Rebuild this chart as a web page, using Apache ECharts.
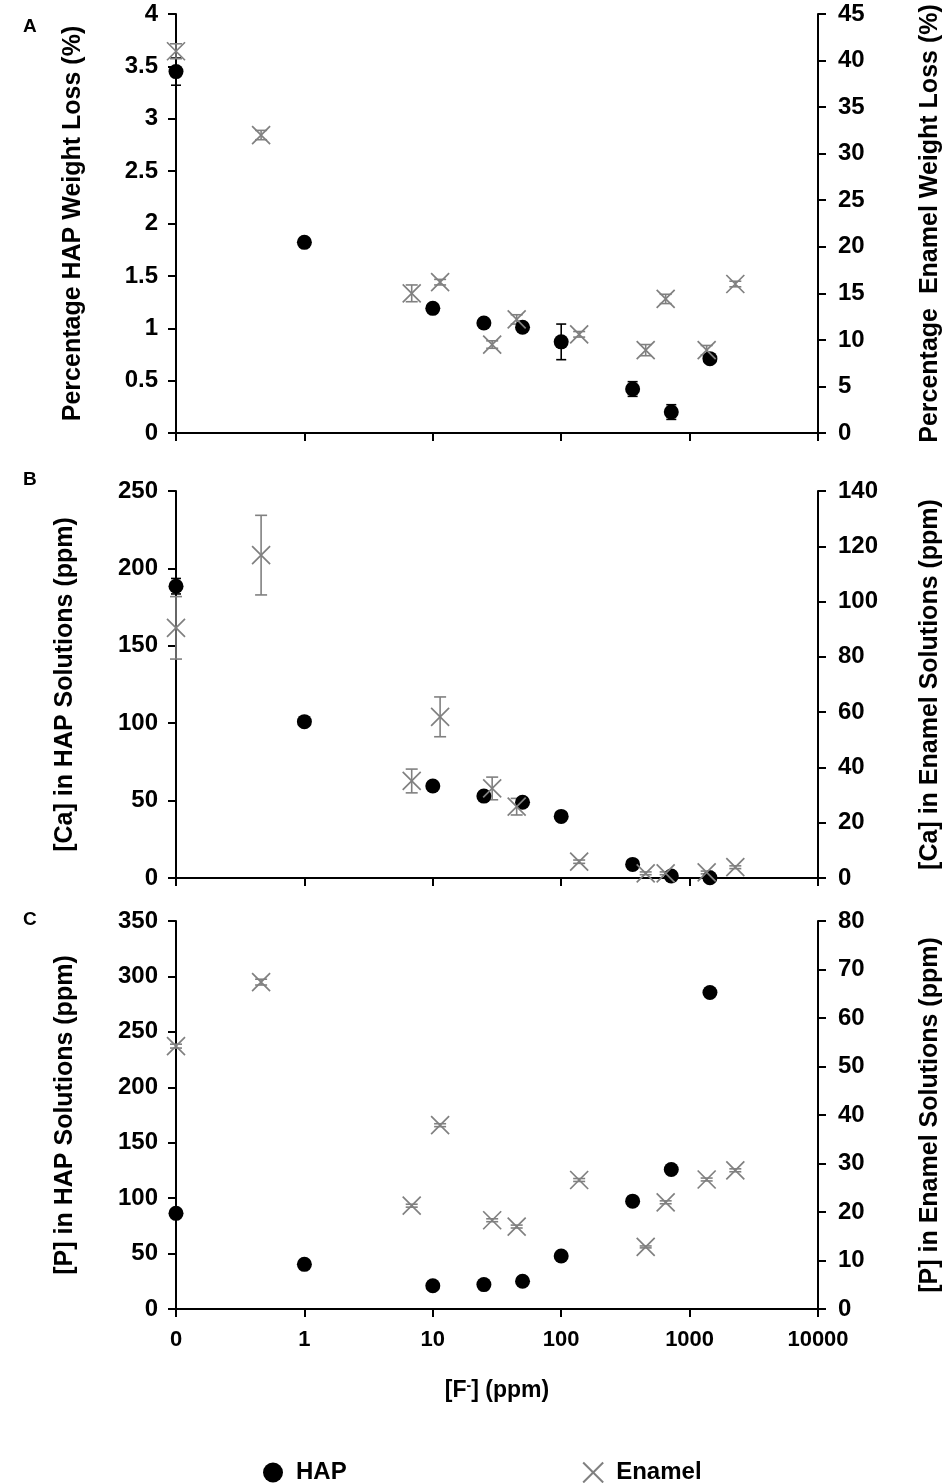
<!DOCTYPE html>
<html>
<head>
<meta charset="utf-8">
<script src="https://cdn.jsdelivr.net/npm/echarts@6/dist/echarts.min.js"></script>
<style>
html,body{margin:0;padding:0;background:#fff;}
#chart{width:945px;height:1483px;}
</style>
</head>
<body>
<div id="chart"></div>
<script>
// ---- Data ----
const fHAP = [0.1, 1, 10, 25, 50, 100, 360, 720, 1440];          // [F-] ppm (0 plotted at 0.1)
const fEnamel = [0.1, 0.46, 6.85, 11.4, 29, 45, 138, 455, 651, 1358, 2270];

const xTickLabels = ['0', '1', '10', '100', '1000', '10000'];

// Panel A: weight loss (%)
const aHAP = [3.45, 1.82, 1.19, 1.05, 1.01, 0.87, 0.42, 0.20, 0.71];
const aHAPErr = [0.13, 0.02, 0.02, 0.02, 0.02, 0.17, 0.07, 0.07, 0.04];
const aEnamel = [41.0, 32.0, 15.0, 16.2, 9.5, 12.2, 10.6, 8.9, 14.4, 8.9, 16.0];
const aEnamelErr = [0.8, 0.5, 0.9, 0.3, 0.4, 0.5, 0.3, 0.6, 0.5, 0.5, 0.3];

// Panel B: [Ca] (ppm)
const bHAP = [188.5, 101, 59.4, 52.9, 48.9, 39.8, 8.8, 1.3, 0.2];
const bHAPErr = [5, 2, 1, 1, 1, 1, 0.5, 0.3, 0.2];
const bEnamel = [90.5, 116.8, 35.1, 58.3, 32.4, 25.8, 5.9, 1.7, 1.7, 2.0, 3.9];
const bEnamelErr = [11.3, 14.4, 4.3, 7.2, 4.1, 3.0, 0.6, 0.5, 0.5, 0.5, 0.5];

// Panel C: [P] (ppm)
const cHAP = [86.3, 40.3, 21, 22, 25, 47.8, 97.3, 125.9, 285.5];
const cHAPErr = [0, 0, 0, 0, 0, 0, 0, 0, 0];
const cEnamel = [54.2, 67.4, 21.3, 37.9, 18.3, 17.0, 26.6, 12.8, 22.0, 26.7, 28.6];
const cEnamelErr = [0.4, 0.6, 0.3, 0.3, 0.3, 0.3, 0.3, 0.2, 0.3, 0.3, 0.3];

const leftNames = ['Percentage HAP Weight Loss (%)', '[Ca] in HAP Solutions (ppm)', '[P] in HAP Solutions (ppm)'];
const rightNames = ['Percentage  Enamel Weight Loss (%)', '[Ca] in Enamel Solutions (ppm)', '[P] in Enamel Solutions (ppm)'];
const leftRanges = [[0, 4, 0.5], [0, 250, 50], [0, 350, 50]];
const rightRanges = [[0, 45, 5], [0, 140, 20], [0, 80, 10]];
const panelLetters = ['A', 'B', 'C'];

// ---- Styling / layout ----
const FONT = '"Liberation Sans", Arial, sans-serif';
const grey = '#808080';
const grids = [
  {left: 176, right: 127, top: 14, height: 419, outerBoundsMode: 'none', containLabel: false},
  {left: 176, right: 127, top: 491, height: 387, outerBoundsMode: 'none', containLabel: false},
  {left: 176, right: 127, top: 921, height: 388, outerBoundsMode: 'none', containLabel: false}
];
const letterY = [27, 480, 920];
const xPath = 'path://M0,0L10,10M10,0L0,10';

const chart = echarts.init(document.getElementById('chart'), null, {renderer: 'canvas'});

const xAxes = [], yAxes = [], series = [];
const axisLineStyle = {color: '#000', width: 2};

grids.forEach((g, i) => {
  const last = i === 2;
  xAxes.push({
    gridIndex: i, type: 'log', logBase: 10, min: 0.1, max: 10000,
    axisLine: {show: true, lineStyle: axisLineStyle, onZero: false},
    axisTick: {show: true, inside: false, length: 8, lineStyle: {color: '#000', width: 2}},
    minorTick: {show: false},
    splitLine: {show: false},
    axisLabel: {
      show: last, margin: 20, color: '#000', fontSize: 22, fontWeight: 'bold', fontFamily: FONT,
      formatter: v => { const k = Math.round(Math.log10(v)) + 1; return xTickLabels[k] !== undefined ? xTickLabels[k] : ''; }
    },
    name: last ? '[F{sup|-}] (ppm)' : '',
    nameLocation: 'middle', nameGap: 70,
    nameTextStyle: {color: '#000', fontSize: 23, fontWeight: 'bold', fontFamily: FONT,
      rich: {sup: {fontSize: 14, fontWeight: 'bold', fontFamily: FONT, color: '#000', verticalAlign: 'top', padding: [0, 0, 10, 0]}}}
  });
  const lr = leftRanges[i], rr = rightRanges[i];
  yAxes.push({
    gridIndex: i, type: 'value', position: 'left', min: lr[0], max: lr[1], interval: lr[2],
    axisLine: {show: true, lineStyle: axisLineStyle},
    axisTick: {show: true, inside: false, length: 8, lineStyle: {color: '#000', width: 2}},
    splitLine: {show: false},
    axisLabel: {margin: 18, color: '#000', fontSize: 24, fontWeight: 'bold', fontFamily: FONT},
    name: leftNames[i], nameLocation: 'middle', nameRotate: 90, nameGap: i === 0 ? 90 : 98,
    nameTextStyle: {color: '#000', fontSize: 25, fontWeight: 'bold', fontFamily: FONT}
  });
  yAxes.push({
    gridIndex: i, type: 'value', position: 'right', min: rr[0], max: rr[1], interval: rr[2],
    axisLine: {show: true, lineStyle: axisLineStyle},
    axisTick: {show: true, inside: false, length: 8, lineStyle: {color: '#000', width: 2}},
    splitLine: {show: false},
    axisLabel: {margin: 20, color: '#000', fontSize: 24, fontWeight: 'bold', fontFamily: FONT},
    name: rightNames[i], nameLocation: 'middle', nameRotate: 90, nameGap: 100,
    nameTextStyle: {color: '#000', fontSize: 25, fontWeight: 'bold', fontFamily: FONT}
  });
});

function errRender(color, cap) {
  return function (params, api) {
    const x = api.value(0), lo = api.value(1), hi = api.value(2);
    const p1 = api.coord([x, hi]), p2 = api.coord([x, lo]);
    const s = {stroke: color, lineWidth: 1.6};
    return {type: 'group', children: [
      {type: 'line', shape: {x1: p1[0], y1: p1[1], x2: p2[0], y2: p2[1]}, style: s},
      {type: 'line', shape: {x1: p1[0] - cap, y1: p1[1], x2: p1[0] + cap, y2: p1[1]}, style: s},
      {type: 'line', shape: {x1: p2[0] - cap, y1: p2[1], x2: p2[0] + cap, y2: p2[1]}, style: s}
    ]};
  };
}

const panels = [
  [aHAP, aHAPErr, aEnamel, aEnamelErr],
  [bHAP, bHAPErr, bEnamel, bEnamelErr],
  [cHAP, cHAPErr, cEnamel, cEnamelErr]
];

panels.forEach((p, i) => {
  const [h, he, e, ee] = p;
  series.push({
    type: 'custom', name: 'HAPerr', xAxisIndex: i, yAxisIndex: 2 * i,
    renderItem: errRender('#000', 5), silent: true, z: 1,
    encode: {x: 0, y: [1, 2]},
    data: fHAP.map((x, k) => [x, h[k] - he[k], h[k] + he[k]])
  });
  series.push({
    type: 'custom', name: 'Enamelerr', xAxisIndex: i, yAxisIndex: 2 * i + 1,
    renderItem: errRender(grey, 6), silent: true, z: 1,
    encode: {x: 0, y: [1, 2]},
    data: fEnamel.map((x, k) => [x, e[k] - ee[k], e[k] + ee[k]])
  });
  series.push({
    type: 'scatter', name: 'HAP', xAxisIndex: i, yAxisIndex: 2 * i,
    symbol: 'circle', symbolSize: 15, z: 3,
    itemStyle: {color: '#000', opacity: 1},
    data: fHAP.map((x, k) => [x, h[k]])
  });
  series.push({
    type: 'scatter', name: 'Enamel', xAxisIndex: i, yAxisIndex: 2 * i + 1,
    symbol: xPath, symbolSize: 18, z: 4,
    itemStyle: {color: 'none', borderColor: grey, borderWidth: 1.7, opacity: 1},
    data: fEnamel.map((x, k) => [x, e[k]])
  });
});

const option = {
  backgroundColor: '#fff',
  animation: false,
  grid: grids,
  xAxis: xAxes,
  yAxis: yAxes,
  series: series,
  legend: {
    data: [
      {name: 'HAP', icon: 'circle', itemStyle: {color: '#000'}},
      {name: 'Enamel', icon: xPath, itemStyle: {color: 'none', borderColor: grey, borderWidth: 2}}
    ],
    left: 258, top: 1455, itemWidth: 20, itemHeight: 20, itemGap: 234,
    textStyle: {color: '#000', fontSize: 24, fontWeight: 'bold', fontFamily: FONT, padding: [0, 0, 0, 8]}
  },
  graphic: panelLetters.map((t, i) => ({
    type: 'text', left: 23, top: letterY[i] - 10,
    style: {text: t, fill: '#000', font: 'bold 19px ' + FONT}
  }))
};
chart.setOption(option);
</script>
</body>
</html>
